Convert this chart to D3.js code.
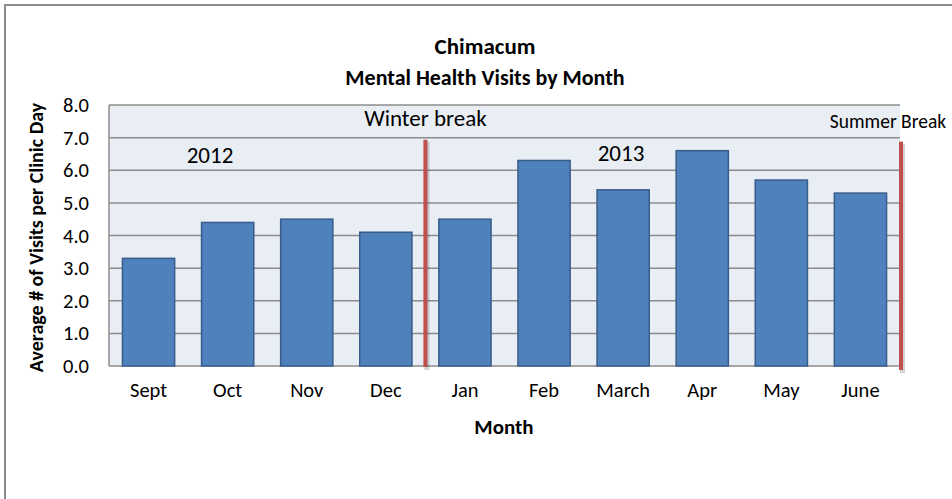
<!DOCTYPE html>
<html>
<head>
<meta charset="utf-8">
<script src="https://cdn.jsdelivr.net/npm/d3@7"></script>
<style>
  html, body { margin: 0; padding: 0; background: #fff; }
  svg { display: block; }
  text { font-family: Carlito, Lato, "Liberation Sans", sans-serif; fill: #000; }
</style>
</head>
<body>
<svg id="chart" width="952" height="499"></svg>
<script>
// ---- data ----
const months = ["Sept", "Oct", "Nov", "Dec", "Jan", "Feb", "March", "Apr", "May", "June"];
const visits = [3.3, 4.4, 4.5, 4.1, 4.5, 6.3, 5.4, 6.6, 5.7, 5.3];
const yTicks = [0, 1, 2, 3, 4, 5, 6, 7, 8];
const titleLines = ["Chimacum", "Mental Health Visits by Month"];
const breakLabels = ["Winter break", "Summer Break"];
const yearLabels = ["2012", "2013"];

const FONT = "Carlito, Lato, 'Liberation Sans', sans-serif";
const svg = d3.select("#chart");

// outer chart border
svg.append("rect")
  .attr("x", 5).attr("y", 5).attr("width", 1000).attr("height", 600)
  .attr("fill", "#fff").attr("stroke", "#8a8a8a").attr("stroke-width", 2);

const plot = { left: 109, right: 900, top: 105, bottom: 366 };

const x = d3.scaleBand()
  .domain(months)
  .range([plot.left, plot.right])
  .paddingInner(0.34)
  .paddingOuter(0.17);

const y = d3.scaleLinear().domain([0, 8]).range([plot.bottom, plot.top]);

// plot background
svg.append("rect")
  .attr("x", plot.left).attr("y", plot.top)
  .attr("width", plot.right - plot.left).attr("height", plot.bottom - plot.top)
  .attr("fill", "#e9edf4");

// gridlines
svg.append("g").selectAll("line").data(yTicks).join("line")
  .attr("x1", plot.left).attr("x2", plot.right)
  .attr("y1", d => y(d)).attr("y2", d => y(d))
  .attr("stroke", "#8c8c8c").attr("stroke-width", 1.5);

// y axis line
svg.append("line")
  .attr("x1", plot.left).attr("x2", plot.left)
  .attr("y1", plot.top).attr("y2", plot.bottom)
  .attr("stroke", "#8c8c8c").attr("stroke-width", 1.5);

// bars
svg.append("g").selectAll("rect").data(months).join("rect")
  .attr("x", d => x(d))
  .attr("y", (d, i) => y(visits[i]))
  .attr("width", x.bandwidth())
  .attr("height", (d, i) => y(0) - y(visits[i]))
  .attr("fill", "#4f81bd")
  .attr("stroke", "#385d8a").attr("stroke-width", 1.5);

// y axis tick labels
const yAxis = d3.axisLeft(y).tickValues(yTicks).tickFormat(d3.format(".1f")).tickSize(0).tickPadding(20);
const gy = svg.append("g").attr("transform", `translate(${plot.left},0)`).call(yAxis);
gy.select(".domain").remove();
gy.selectAll("text").attr("font-size", 20.5).style("font-family", FONT).attr("fill", "#000");

// x axis labels
const xAxis = d3.axisBottom(x).tickSize(0).tickPadding(16);
const gx = svg.append("g").attr("transform", `translate(0,${plot.bottom})`).call(xAxis);
gx.select(".domain").remove();
gx.selectAll("text").attr("font-size", 20.5).style("font-family", FONT).attr("fill", "#000");

// break lines (with soft shadow)
const winterX = (x("Dec") + x.bandwidth() + x("Jan")) / 2;
const summerX = plot.right + 1;
[winterX, summerX].forEach((bx, i) => {
  const y1 = y(7) + 2 + i * 2, y2 = y(0) + 1 + i * 3;
  svg.append("line")
    .attr("x1", bx + 1.5).attr("x2", bx + 1.5)
    .attr("y1", y1 + 2).attr("y2", y2 + 3)
    .attr("stroke", "#000").attr("stroke-opacity", 0.18).attr("stroke-width", 5);
  svg.append("line")
    .attr("x1", bx).attr("x2", bx)
    .attr("y1", y1).attr("y2", y2)
    .attr("stroke", "#c0504d").attr("stroke-width", 4);
});

// annotations
svg.append("text").attr("x", winterX).attr("y", 126).attr("text-anchor", "middle")
  .attr("font-size", 23).text(breakLabels[0]);
svg.append("text").attr("x", 888).attr("y", 128).attr("text-anchor", "middle")
  .attr("font-size", 19.5).text(breakLabels[1]);
svg.append("text").attr("x", 210).attr("y", 163).attr("text-anchor", "middle")
  .attr("font-size", 23).text(yearLabels[0]);
svg.append("text").attr("x", 621).attr("y", 161).attr("text-anchor", "middle")
  .attr("font-size", 23).text(yearLabels[1]);

// titles
svg.append("text").attr("x", 485).attr("y", 54).attr("text-anchor", "middle")
  .attr("font-size", 23).attr("font-weight", "bold").text(titleLines[0]);
svg.append("text").attr("x", 485).attr("y", 85).attr("text-anchor", "middle")
  .attr("font-size", 22).attr("font-weight", "bold").text(titleLines[1]);

// axis titles
svg.append("text").attr("x", 504).attr("y", 434).attr("text-anchor", "middle")
  .attr("font-size", 21).attr("font-weight", "bold").text("Month");
svg.append("text")
  .attr("transform", `translate(43,${(plot.top + plot.bottom) / 2 + 2}) rotate(-90)`)
  .attr("text-anchor", "middle")
  .attr("font-size", 20).attr("font-weight", "bold").text("Average # of Visits per Clinic Day");
</script>
</body>
</html>
